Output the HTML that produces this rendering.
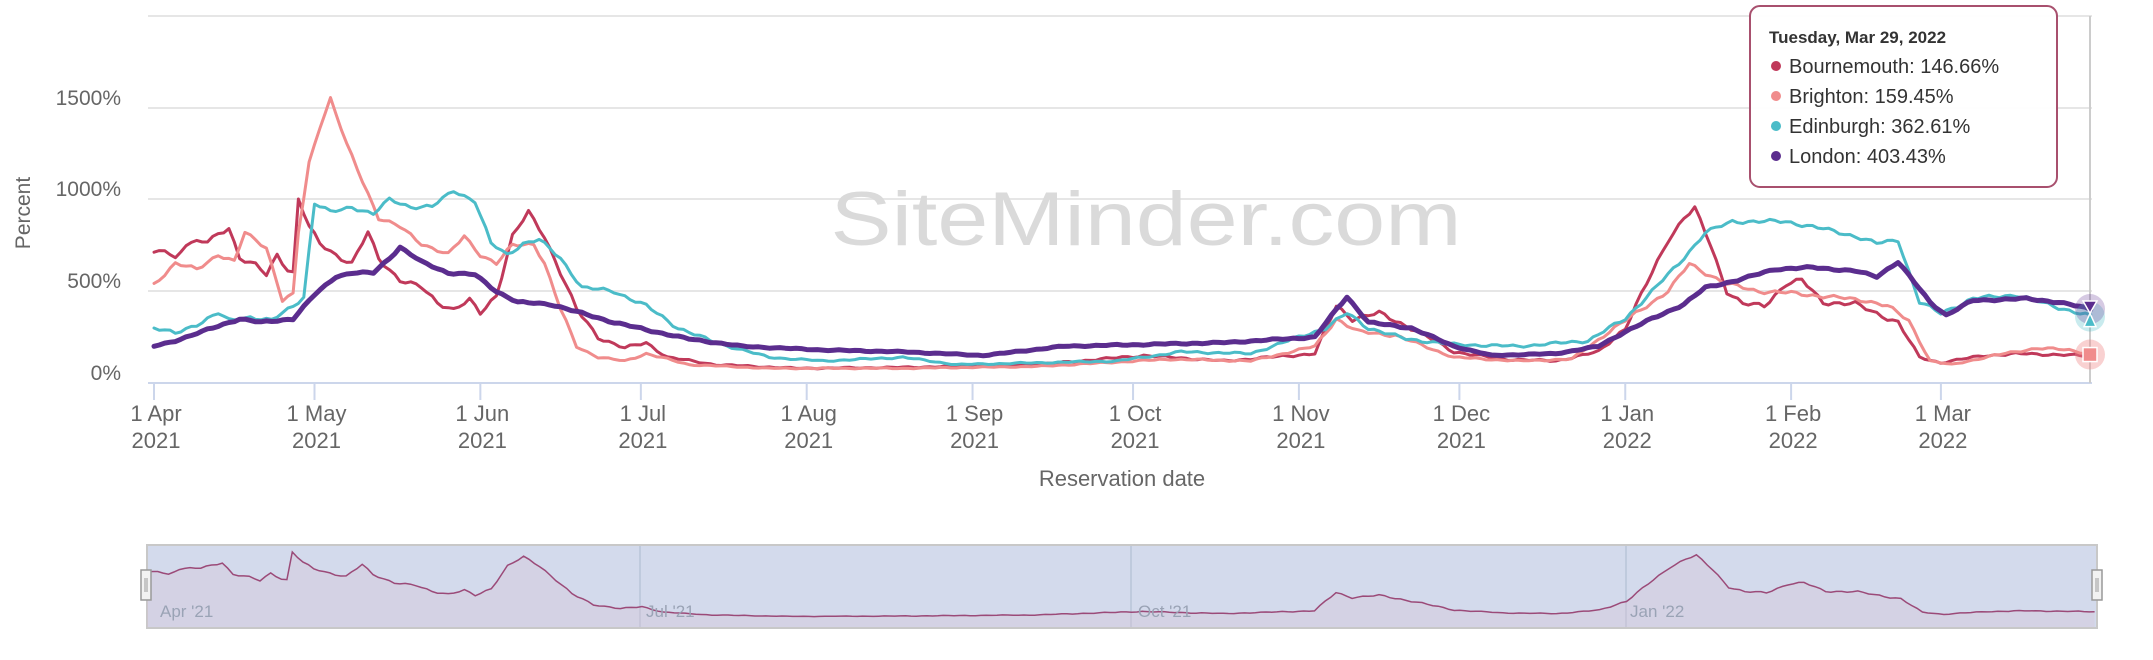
<!DOCTYPE html>
<html><head><meta charset="utf-8"><style>
html,body{margin:0;padding:0;background:#fff;}
svg{display:block;font-family:"Liberation Sans",sans-serif;}
</style></head><body>
<svg id="s" width="2153" height="660" viewBox="0 0 2153 660" xmlns="http://www.w3.org/2000/svg">
<g stroke="#e6e6e6" stroke-width="2">
<line x1="148" y1="16" x2="2092" y2="16"/>
<line x1="148" y1="108" x2="2092" y2="108"/>
<line x1="148" y1="199" x2="2092" y2="199"/>
<line x1="148" y1="291" x2="2092" y2="291"/>
</g>
<text x="1146" y="245" font-size="76" fill="#dadada" text-anchor="middle" textLength="631" lengthAdjust="spacingAndGlyphs">SiteMinder.com</text>
<g fill="#666" font-size="21" text-anchor="end">
<text x="121" y="380">0%</text>
<text x="121" y="288">500%</text>
<text x="121" y="196">1000%</text>
<text x="121" y="105">1500%</text>
</g>
<text transform="translate(30,213) rotate(-90)" font-size="21" fill="#666" text-anchor="middle">Percent</text>
<line x1="148" y1="383" x2="2092" y2="383" stroke="#ccd6eb" stroke-width="2"/>
<line x1="2090" y1="16" x2="2090" y2="383" stroke="#ccc" stroke-width="2"/>
<g id="ticks" stroke="#ccd6eb" stroke-width="2"></g>
<g id="xl" fill="#666" font-size="22" text-anchor="middle"></g>
<text x="1122" y="486" font-size="22" fill="#666" text-anchor="middle">Reservation date</text>
<g id="series" fill="none" stroke-linejoin="round" stroke-linecap="round"></g>
<g id="markers"></g>
<rect x="147" y="545" width="1950" height="83" fill="#d3daec" stroke="#c8c8c8" stroke-width="2"/>
<g stroke="#b8c4d8" stroke-width="1.5">
<line x1="640" y1="546" x2="640" y2="627"/>
<line x1="1131" y1="546" x2="1131" y2="627"/>
<line x1="1626" y1="546" x2="1626" y2="627"/>
</g>
<g id="nav"></g>
<g fill="#9aa3b5" font-size="17">
<text x="160" y="617">Apr '21</text>
<text x="646" y="617">Jul '21</text>
<text x="1138" y="617">Oct '21</text>
<text x="1630" y="617">Jan '22</text>
</g>
<rect x="141" y="570" width="10" height="30" fill="#f2f2f2" stroke="#999" stroke-width="1.5"/>
<rect x="2092" y="570" width="10" height="30" fill="#f2f2f2" stroke="#999" stroke-width="1.5"/>
<g stroke="#999" stroke-width="1"><line x1="145" y1="578" x2="145" y2="592"/><line x1="147" y1="578" x2="147" y2="592"/><line x1="2096" y1="578" x2="2096" y2="592"/><line x1="2098" y1="578" x2="2098" y2="592"/></g>
<rect x="1750" y="6" width="307" height="181" rx="10" fill="#fff" fill-opacity="0.95" stroke="#a8506e" stroke-width="2"/>
<text x="1769" y="43" font-size="17" font-weight="bold" fill="#333">Tuesday, Mar 29, 2022</text>
<g font-size="20" fill="#333">
<circle cx="1776" cy="66" r="5" fill="#c0395a"/><text x="1789" y="73">Bournemouth: 146.66%</text>
<circle cx="1776" cy="96" r="5" fill="#f08c8c"/><text x="1789" y="103">Brighton: 159.45%</text>
<circle cx="1776" cy="126" r="5" fill="#4bbcc8"/><text x="1789" y="133">Edinburgh: 362.61%</text>
<circle cx="1776" cy="156" r="5" fill="#5b2d8e"/><text x="1789" y="163">London: 403.43%</text>
</g>
</svg>
<script>
var NS="http://www.w3.org/2000/svg";
function X(d){return 154+d*5.35;}
function Y(p){return 383-p*0.1835;}
function el(t,a,p){var e=document.createElementNS(NS,t);for(var k in a)e.setAttribute(k,a[k]);p.appendChild(e);return e;}
var months=[[0,"1 Apr","2021"],[30,"1 May","2021"],[61,"1 Jun","2021"],[91,"1 Jul","2021"],[122,"1 Aug","2021"],[153,"1 Sep","2021"],[183,"1 Oct","2021"],[214,"1 Nov","2021"],[244,"1 Dec","2021"],[275,"1 Jan","2022"],[306,"1 Feb","2022"],[334,"1 Mar","2022"]];
var tg=document.getElementById("ticks"),xl=document.getElementById("xl");
months.forEach(function(m){var x=X(m[0]);el("line",{x1:x,y1:383,x2:x,y2:400},tg);var t=el("text",{x:x+2,y:421},xl);t.textContent=m[1];var t2=el("text",{x:x+2,y:448},xl);t2.textContent=m[2];});
function interp(pts){var out=[];for(var d=0;d<=362;d++){var i=0;while(i<pts.length-2&&pts[i+1][0]<d)i++;var a=pts[i],b=pts[i+1];var t=(b[0]==a[0])?0:(d-a[0])/(b[0]-a[0]);t=Math.max(0,Math.min(1,t));out.push(a[1]+(b[1]-a[1])*t);}return out;}
function wig(arr,amp,seed){return arr.map(function(v,i){return Math.max(20,v+amp*Math.min(1,v/300)*(Math.sin(i*1.7+seed)*0.6+Math.sin(i*0.63+seed*2)*0.4));});}
var bour=[[0,700],[2,730],[4,680],[6,760],[10,770],[14,850],[16,680],[19,640],[21,590],[23,700],[25,620],[26,600],[27,1000],[29,850],[31,760],[35,680],[37,650],[40,820],[42,680],[46,560],[50,520],[53,440],[56,400],[59,450],[61,380],[64,480],[67,800],[70,930],[73,800],[76,600],[79,400],[83,250],[88,190],[92,220],[96,140],[105,100],[120,80],[140,85],[165,100],[185,150],[200,120],[217,160],[221,420],[224,350],[229,380],[235,300],[243,170],[252,130],[262,120],[270,170],[275,300],[280,600],[283,780],[286,900],[288,950],[291,750],[294,500],[297,430],[301,420],[305,540],[308,560],[312,440],[318,430],[322,380],[326,330],[330,140],[334,110],[342,150],[350,160],[362,147]];
var brig=[[0,540],[4,650],[8,620],[12,700],[15,660],[17,820],[21,740],[24,450],[26,480],[27,820],[29,1200],[31,1400],[33,1550],[36,1300],[39,1100],[42,900],[46,850],[50,760],[55,700],[58,800],[61,700],[64,650],[67,750],[71,760],[73,650],[76,400],[79,200],[83,140],[88,120],[92,160],[100,100],[115,80],[140,80],[165,90],[190,130],[205,120],[217,200],[221,350],[225,280],[232,260],[243,140],[255,120],[265,130],[272,280],[277,380],[283,500],[287,650],[290,600],[294,540],[300,500],[306,490],[313,470],[320,450],[324,420],[328,340],[332,120],[336,100],[344,150],[352,190],[358,180],[362,159]];
var edin=[[0,300],[4,270],[8,320],[12,380],[14,340],[18,360],[22,340],[26,420],[28,470],[30,980],[33,930],[37,960],[41,920],[44,1000],[48,960],[52,960],[56,1050],[60,990],[63,760],[66,700],[69,760],[72,780],[76,680],[80,520],[86,500],[92,420],[98,300],[105,220],[115,140],[125,120],[140,140],[150,100],[165,110],[180,120],[192,170],[205,160],[214,250],[219,300],[223,380],[227,300],[234,240],[243,210],[255,200],[268,230],[275,350],[280,500],[285,650],[290,820],[295,880],[305,880],[312,840],[318,800],[322,760],[326,780],[330,440],[334,380],[340,460],[348,480],[355,420],[362,363]];
var lond=[[0,200],[4,230],[10,290],[16,350],[20,330],[26,350],[30,480],[34,580],[37,600],[41,600],[44,680],[46,740],[50,660],[55,600],[60,590],[64,500],[68,440],[74,430],[80,380],[86,330],[92,290],[100,240],[110,200],[125,180],[140,170],[155,150],[170,200],[185,210],[200,220],[217,250],[221,400],[223,470],[227,330],[235,300],[243,200],[250,150],[262,160],[270,200],[275,280],[280,350],[286,430],[290,520],[296,560],[303,620],[310,630],[318,610],[322,580],[326,660],[332,440],[335,370],[340,450],[350,460],[356,440],[362,403]];
var sg=document.getElementById("series");
function draw(pts,color,w,seed,amp){var v=wig(interp(pts),amp,seed);var d="";v.forEach(function(p,i){d+=(i?"L":"M")+X(i).toFixed(1)+" "+Y(p).toFixed(1);});el("path",{d:d,stroke:color,"stroke-width":w},sg);return v;}
var bv=draw(bour,"#c0395a",3,1,15);
draw(brig,"#f08c8c",3,2,12);
draw(edin,"#4bbcc8",3,3,12);
draw(lond,"#5b2d8e",5,4,6);
var mk=document.getElementById("markers");
el("circle",{cx:2090,cy:Y(362),r:15,fill:"#4bbcc8","fill-opacity":0.3},mk);
el("circle",{cx:2090,cy:Y(403),r:15,fill:"#5b2d8e","fill-opacity":0.25},mk);
el("circle",{cx:2090,cy:Y(155),r:15,fill:"#f08c8c","fill-opacity":0.4},mk);
el("path",{d:"M2083 "+(Y(403)-8)+"L2097 "+(Y(403)-8)+"L2090 "+(Y(380))+"Z",fill:"#5b2d8e",stroke:"#fff","stroke-width":1.5},mk);
el("path",{d:"M2084 "+(Y(340)+6)+"L2096 "+(Y(340)+6)+"L2090 "+(Y(380))+"Z",fill:"#4bbcc8",stroke:"#fff","stroke-width":1.5},mk);
el("rect",{x:2083,y:Y(155)-7,width:14,height:14,fill:"#f08c8c",stroke:"#fff","stroke-width":1.5},mk);
var nav=document.getElementById("nav");var nd="";
bv.forEach(function(p,i){var x=147+i*5.38,y=622-Math.min(p,1000)*0.07;nd+=(i?"L":"M")+x.toFixed(1)+" "+y.toFixed(1);});
el("path",{d:nd+"L"+(147+362*5.38)+" 627L147 627Z",fill:"#d8c4d8","fill-opacity":0.35},nav);
el("path",{d:nd,fill:"none",stroke:"#9b4a78","stroke-width":1.5},nav);
</script>
</body></html>
